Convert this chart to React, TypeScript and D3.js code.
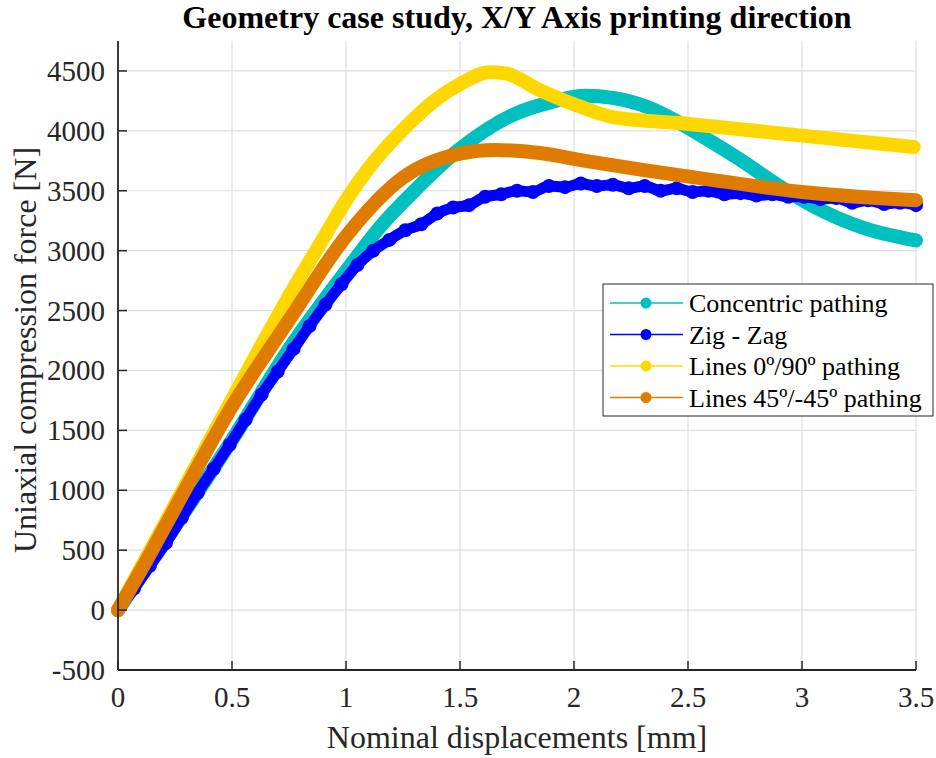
import React, { useEffect, useRef } from 'react';
import * as d3 from 'd3';

// Concentric pathing
const concentricX = [0, 0.25, 0.5, 0.75, 1.0, 1.15, 1.3, 1.5, 1.73, 1.9, 2.05, 2.17, 2.32, 2.46, 2.61, 2.76, 2.86, 3.05, 3.27, 3.5];
const concentricY = [0, 700, 1420, 2180, 2830, 3200, 3500, 3850, 4132, 4240, 4292, 4275, 4200, 4070, 3900, 3720, 3590, 3370, 3190, 3085];

// Zig - Zag
const zigzagX = [
  0, 0.07, 0.14, 0.21, 0.28, 0.35, 0.42, 0.49, 0.56, 0.63, 0.7, 0.77, 0.84, 0.91, 0.98, 1.05, 1.12,
  1.19, 1.26, 1.33, 1.4, 1.47, 1.54, 1.61, 1.68, 1.75, 1.82, 1.89, 1.96, 2.03, 2.1, 2.17, 2.24,
  2.31, 2.38, 2.45, 2.52, 2.59, 2.66, 2.73, 2.8, 2.87, 2.94, 3.01, 3.08, 3.15, 3.22, 3.29, 3.36, 3.43, 3.5,
];
const zigzagY = [
  0, 180, 370, 560, 770, 980, 1180, 1380, 1590, 1800, 1990, 2180, 2370, 2550, 2720, 2880, 3000,
  3090, 3170, 3220, 3310, 3360, 3380, 3450, 3470, 3500, 3490, 3540, 3530, 3560, 3540, 3550, 3520,
  3540, 3500, 3520, 3490, 3500, 3470, 3480, 3460, 3470, 3450, 3450, 3430, 3440, 3400, 3420, 3390, 3400, 3380,
];

// Lines 0º/90º pathing
const lines090X = [0, 0.25, 0.5, 0.75, 0.9, 1.0, 1.1, 1.25, 1.4, 1.5, 1.63, 1.7, 1.85, 2.03, 2.17, 2.46, 3.0, 3.49];
const lines090Y = [0, 880, 1760, 2620, 3100, 3420, 3690, 4010, 4270, 4390, 4490, 4480, 4340, 4200, 4115, 4065, 3960, 3865];

// Lines 45º/-45º pathing
const lines45X = [0, 0.1, 0.25, 0.5, 0.75, 1.0, 1.25, 1.5, 1.65, 1.85, 2.05, 2.3, 2.55, 3.0, 3.5];
const lines45Y = [0, 330, 850, 1700, 2420, 3120, 3610, 3810, 3840, 3815, 3750, 3675, 3606, 3490, 3420];

const xTicks = [0, 0.5, 1, 1.5, 2, 2.5, 3, 3.5];
const yTicks = [-500, 0, 500, 1000, 1500, 2000, 2500, 3000, 3500, 4000, 4500];

const seriesNames = ['Concentric pathing', 'Zig - Zag', 'Lines 0º/90º pathing', 'Lines 45º/-45º pathing'];
const seriesColors = ['#00BFBF', '#0000FF', '#FFD700', '#DF7C00'];

const App = () => {
  const svgRef = useRef<SVGSVGElement>(null);

  useEffect(() => {
    const svg = d3.select(svgRef.current);
    svg.selectAll('*').remove();

    const width = 936;
    const height = 758;
    const left = 118;
    const right = 916;
    const top = 41;
    const bottom = 670;
    const font = "'Liberation Serif', 'Times New Roman', serif";
    const axisColor = '#262626';

    svg.append('rect').attr('width', width).attr('height', height).attr('fill', '#fff');

    const x = d3.scaleLinear().domain([0, 3.5]).range([left, right]);
    const y = d3.scaleLinear().domain([-500, 4750]).range([bottom, top]);

    // grid
    const grid = svg.append('g');
    grid
      .selectAll('.gx')
      .data(xTicks.slice(1))
      .enter()
      .append('line')
      .attr('x1', d => x(d))
      .attr('x2', d => x(d))
      .attr('y1', top)
      .attr('y2', bottom)
      .attr('stroke', '#dedede')
      .attr('stroke-width', 1.2);
    grid
      .selectAll('.gy')
      .data(yTicks.slice(1))
      .enter()
      .append('line')
      .attr('x1', left)
      .attr('x2', right)
      .attr('y1', d => y(d))
      .attr('y2', d => y(d))
      .attr('stroke', '#dedede')
      .attr('stroke-width', 1.2);

    // series
    const all = [
      { xs: concentricX, ys: concentricY, dots: false },
      { xs: zigzagX, ys: zigzagY, dots: true },
      { xs: lines090X, ys: lines090Y, dots: false },
      { xs: lines45X, ys: lines45Y, dots: false },
    ];
    const line = d3
      .line<[number, number]>()
      .x(d => x(d[0]))
      .y(d => y(d[1]))
      .curve(d3.curveMonotoneX);

    const plot = svg.append('g');
    all.forEach((s, i) => {
      const pts: [number, number][] = s.xs.map((v, j) => [v, s.ys[j]]);
      plot
        .append('path')
        .attr('d', line(pts))
        .attr('fill', 'none')
        .attr('stroke', seriesColors[i])
        .attr('stroke-width', s.dots ? 11 : 14)
        .attr('stroke-linecap', 'round')
        .attr('stroke-linejoin', 'round');
      if (s.dots) {
        plot
          .selectAll(`.dot${i}`)
          .data(pts)
          .enter()
          .append('circle')
          .attr('cx', d => x(d[0]))
          .attr('cy', d => y(d[1]))
          .attr('r', 7)
          .attr('fill', seriesColors[i]);
      }
    });

    // axes
    const axes = svg.append('g');
    axes
      .append('line')
      .attr('x1', left)
      .attr('x2', left)
      .attr('y1', top)
      .attr('y2', bottom)
      .attr('stroke', axisColor)
      .attr('stroke-width', 1.8);
    axes
      .append('line')
      .attr('x1', left)
      .attr('x2', right)
      .attr('y1', bottom)
      .attr('y2', bottom)
      .attr('stroke', axisColor)
      .attr('stroke-width', 1.8);

    axes
      .selectAll('.tx')
      .data(xTicks)
      .enter()
      .append('line')
      .attr('x1', d => x(d))
      .attr('x2', d => x(d))
      .attr('y1', bottom)
      .attr('y2', bottom - 9)
      .attr('stroke', axisColor)
      .attr('stroke-width', 1.5);
    axes
      .selectAll('.ty')
      .data(yTicks)
      .enter()
      .append('line')
      .attr('x1', left)
      .attr('x2', left + 9)
      .attr('y1', d => y(d))
      .attr('y2', d => y(d))
      .attr('stroke', axisColor)
      .attr('stroke-width', 1.5);

    axes
      .selectAll('.lx')
      .data(xTicks)
      .enter()
      .append('text')
      .attr('x', d => x(d))
      .attr('y', 707)
      .attr('text-anchor', 'middle')
      .style('font-family', font)
      .style('font-size', '29px')
      .attr('fill', axisColor)
      .text(d => String(d));
    axes
      .selectAll('.ly')
      .data(yTicks)
      .enter()
      .append('text')
      .attr('x', 105)
      .attr('y', d => y(d) + 10)
      .attr('text-anchor', 'end')
      .style('font-family', font)
      .style('font-size', '29px')
      .attr('fill', axisColor)
      .text(d => String(d));

    svg
      .append('text')
      .attr('x', (left + right) / 2)
      .attr('y', 748)
      .attr('text-anchor', 'middle')
      .style('font-family', font)
      .style('font-size', '32px')
      .attr('fill', axisColor)
      .text('Nominal displacements [mm]');
    svg
      .append('text')
      .attr('transform', `translate(36, 350) rotate(-90)`)
      .attr('text-anchor', 'middle')
      .style('font-family', font)
      .style('font-size', '32px')
      .attr('fill', axisColor)
      .text('Uniaxial compression force [N]');
    svg
      .append('text')
      .attr('x', (left + right) / 2)
      .attr('y', 28)
      .attr('text-anchor', 'middle')
      .style('font-family', font)
      .style('font-size', '32px')
      .style('font-weight', 'bold')
      .attr('fill', '#000')
      .text('Geometry case study, X/Y Axis printing direction');

    // legend
    const lg = svg.append('g');
    lg.append('rect')
      .attr('x', 603)
      .attr('y', 284)
      .attr('width', 330)
      .attr('height', 132)
      .attr('fill', '#fff')
      .attr('stroke', '#262626')
      .attr('stroke-width', 1);
    seriesNames.forEach((name, i) => {
      const cy = 303 + i * 31.5;
      lg.append('line')
        .attr('x1', 610)
        .attr('x2', 683)
        .attr('y1', cy)
        .attr('y2', cy)
        .attr('stroke', seriesColors[i])
        .attr('stroke-width', 1.5);
      lg.append('circle').attr('cx', 646).attr('cy', cy).attr('r', 5.5).attr('fill', seriesColors[i]);
      lg.append('text')
        .attr('x', 689)
        .attr('y', cy + 9)
        .style('font-family', font)
        .style('font-size', '26px')
        .attr('fill', '#000')
        .text(name);
    });
  }, []);

  return (
    <svg
      ref={svgRef}
      width={936}
      height={758}
      style={{ position: 'absolute', left: 0, top: 0, display: 'block' }}
    />
  );
};

export default App;
